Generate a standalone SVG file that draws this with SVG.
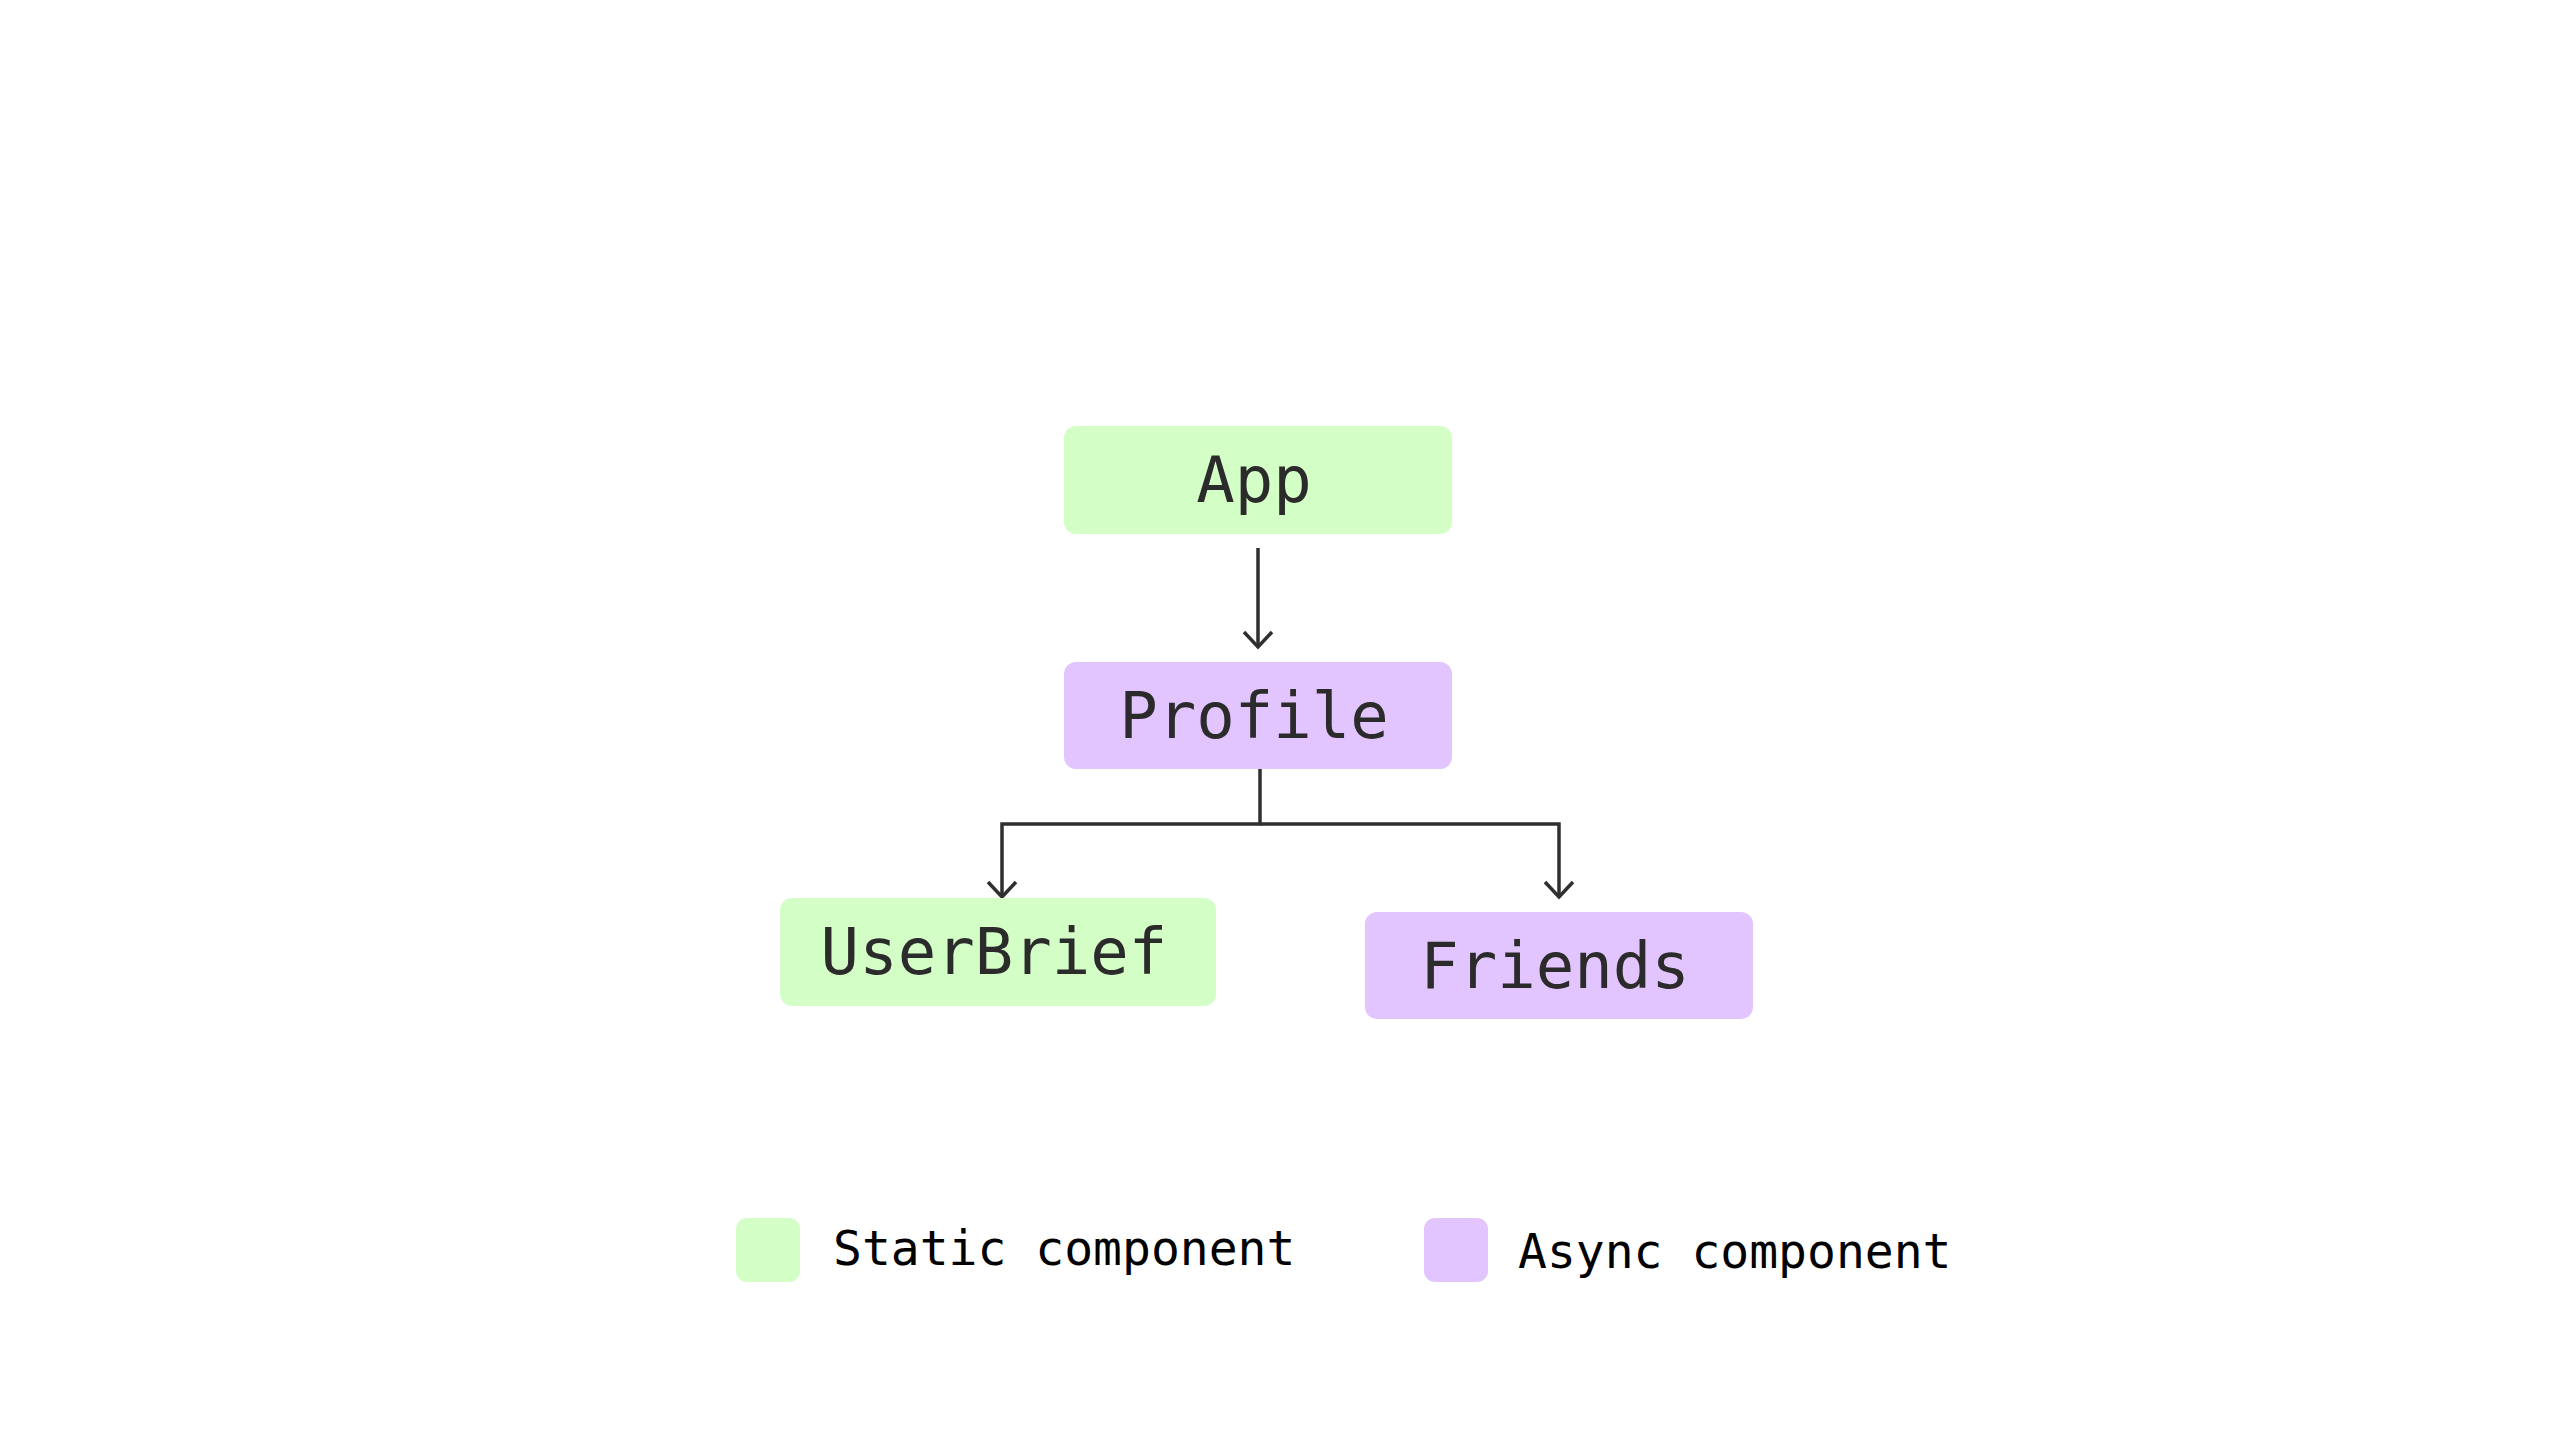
<svg xmlns="http://www.w3.org/2000/svg" width="2560" height="1440" viewBox="0 0 2560 1440">
  <style>
    .static { fill: #d3fec6; }
    .async { fill: #e2c5fe; }
    .label { font-family: "DejaVu Sans Mono", "Liberation Mono", monospace; font-size: 64px; fill: #2b2b2b; text-anchor: middle; }
    .legend { font-family: "DejaVu Sans Mono", "Liberation Mono", monospace; font-size: 48px; fill: #000000; }
    .conn { fill: none; stroke: #2f2f2f; stroke-width: 3.5; }
  </style>
  <defs>
    <marker id="arrow" markerUnits="userSpaceOnUse" markerWidth="40" markerHeight="40" refX="20" refY="20" orient="auto">
      <path d="M5 6 L20 20 L5 34" fill="none" stroke="#2f2f2f" stroke-width="3.5"/>
    </marker>
  </defs>
  <rect width="2560" height="1440" fill="#ffffff"/>

  <g id="connectors">
    <path class="conn" d="M1258 548 V647" marker-end="url(#arrow)"/>
    <path class="conn" d="M1260 769 V824 H1002 V897" marker-end="url(#arrow)"/>
    <path class="conn" d="M1260 824 H1559 V897" marker-end="url(#arrow)"/>
  </g>

  <g id="node-app">
    <rect class="static" x="1064" y="426" width="388" height="108" rx="12"/>
    <text class="label" x="1254" y="502">App</text>
  </g>
  <g id="node-profile">
    <rect class="async" x="1064" y="662" width="388" height="107" rx="12"/>
    <text class="label" x="1254" y="738">Profile</text>
  </g>
  <g id="node-userbrief">
    <rect class="static" x="780" y="898" width="436" height="108" rx="12"/>
    <text class="label" x="994" y="974">UserBrief</text>
  </g>
  <g id="node-friends">
    <rect class="async" x="1365" y="912" width="388" height="107" rx="12"/>
    <text class="label" x="1555" y="988">Friends</text>
  </g>

  <g id="legend-static">
    <rect class="static" x="736" y="1218" width="64" height="64" rx="11"/>
    <text class="legend" x="833" y="1265">Static component</text>
  </g>
  <g id="legend-async">
    <rect class="async" x="1424" y="1218" width="64" height="64" rx="11"/>
    <text class="legend" x="1518" y="1268">Async component</text>
  </g>
</svg>
